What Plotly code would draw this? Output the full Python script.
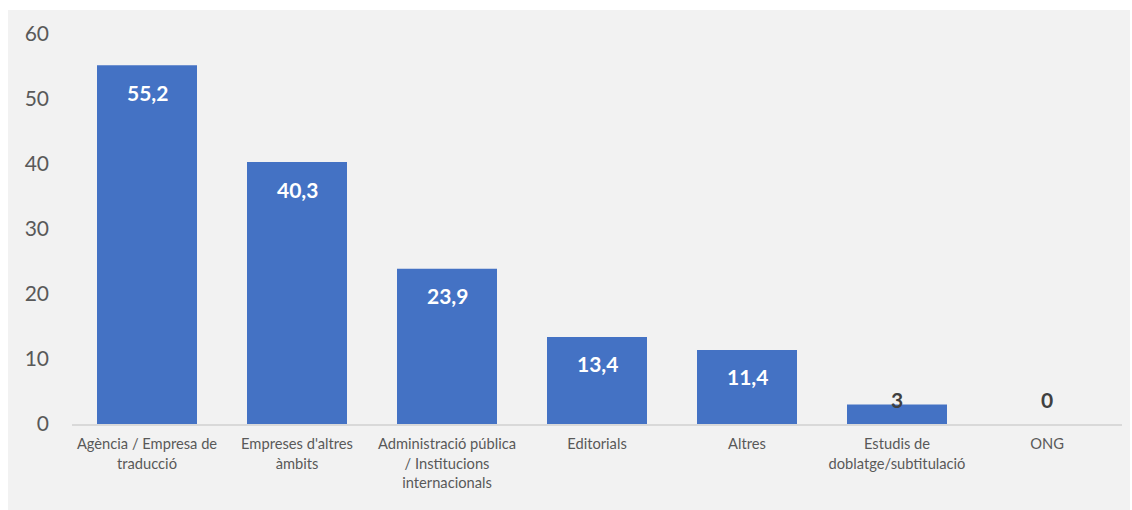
import plotly.graph_objects as go

categories = [
    "Agència / Empresa de<br>traducció",
    "Empreses d'altres<br>àmbits",
    "Administració pública<br>/ Institucions<br>internacionals",
    "Editorials",
    "Altres",
    "Estudis de<br>doblatge/subtitulació",
    "ONG",
]
values = [55.2, 40.3, 23.9, 13.4, 11.4, 3, 0]
y_ticks = [0, 10, 20, 30, 40, 50, 60]

W, H = 1132, 510
ml, mr, mt, mb = 72, 10, 34, 86
plot_h = H - mt - mb
plot_w = W - ml - mr
units_per_px = 60 / plot_h

fig = go.Figure()
fig.add_trace(go.Bar(
    x=categories, y=values,
    marker=dict(color="#4472C4", line=dict(width=0)),
    hoverinfo="skip",
))

# data labels, Excel-like "inside end" placement
label_offset = 27 * units_per_px
min_pos = 25 * units_per_px
for c, v in zip(categories, values):
    pos = v - label_offset
    inside = pos >= min_pos
    y = pos if inside else min_pos
    txt = f"{v:g}".replace(".", ",")
    fig.add_annotation(
        x=c, y=y, text=f"<b>{txt}</b>", showarrow=False,
        yanchor="middle",
        font=dict(family="Lato", size=21, color="#FFFFFF" if inside else "#404040"),
    )

# gray panel background
fig.add_shape(
    type="rect", xref="paper", yref="paper",
    x0=(8 - ml) / plot_w, x1=(1130 - ml) / plot_w,
    y0=(mt + plot_h - 510) / plot_h,
    y1=(mt + plot_h - 10) / plot_h,
    fillcolor="#F2F2F2", line=dict(width=0), layer="below",
)

fig.update_layout(
    width=W, height=H,
    margin=dict(l=ml, r=mr, t=mt, b=mb),
    paper_bgcolor="#FFFFFF",
    plot_bgcolor="rgba(0,0,0,0)",
    bargap=1/3,
    showlegend=False,
    font=dict(family="Lato", color="#595959"),
)
fig.update_xaxes(
    showgrid=False, showline=True, linecolor="#D9D9D9", linewidth=1.5,
    tickfont=dict(size=14.7, color="#595959"), ticks="", ticklabelstandoff=6,
)
fig.update_yaxes(
    range=[0, 60], tickvals=y_ticks, showgrid=False, zeroline=False,
    showline=False, tickfont=dict(size=21, color="#595959"), ticks="",
    ticklabelstandoff=22,
)

fig.write_html("out.html")
